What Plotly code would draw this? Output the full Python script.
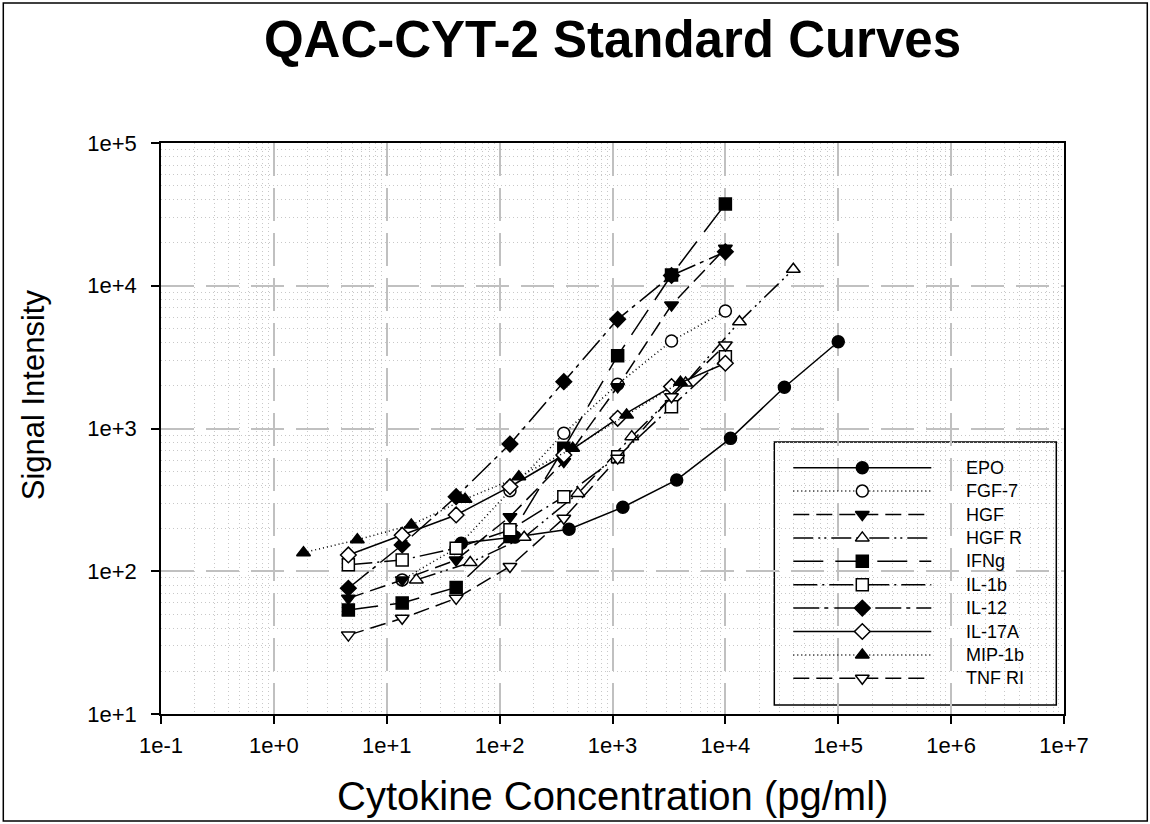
import plotly.graph_objects as go

# ---------------- data ----------------
series_names = ["EPO", "FGF-7", "HGF", "HGF R", "IFNg", "IL-1b", "IL-12", "IL-17A", "MIP-1b", "TNF RI"]

conc_std = [4.57, 13.7, 41.2, 123.5, 370.4, 1111, 3333, 10000]
conc_epo = [45.7, 137, 412, 1235, 3704, 11111, 33333, 100000]
conc_hgfr = [18.3, 54.9, 165, 494, 1481, 4444, 13333, 40000]
conc_mip = [1.83, 5.49, 16.5, 49.4, 148, 444, 1333, 4000]

epo = [157, 174, 197, 281, 436, 853, 1945, 4055]
fgf7 = [None, 87, 145, 367, 925, 2040, 4100, 6650]
hgf = [64.6, 87, 120, 241, 586, 1963, 7330, 18300]
hgfr = [87, 115, 173, 351, 877, 2080, 5600, 13040]
ifng = [53.5, 60, 77, 175, 727, 3235, 11900, 37400]
il1b = [111, 120, 145, 195, 333, 634, 1422, 3185]
il12 = [76, 153, 333, 778, 2128, 5820, 11800, 17300]
il17a = [130, 179, 248, 391, 652, 1178, 1965, 2865]
mip1b = [135, 166, 211, 320, 459, 727, 1245, 2110]
tnfri = [35.7, 46.8, 64.6, 108, 235, 620, 1671, 3845]

x_tickvals = [0.1, 1, 10, 100, 1e3, 1e4, 1e5, 1e6, 1e7]
x_ticktext = ["1e-1", "1e+0", "1e+1", "1e+2", "1e+3", "1e+4", "1e+5", "1e+6", "1e+7"]
y_tickvals = [10, 100, 1e3, 1e4, 1e5]
y_ticktext = ["1e+1", "1e+2", "1e+3", "1e+4", "1e+5"]

# ---------------- styles ----------------
FONT = "Arial, Liberation Sans, Helvetica, sans-serif"
series = [
    ("EPO", conc_epo, epo, "circle", "black", "solid"),
    ("FGF-7", conc_std, fgf7, "circle", "white", "1px,3px"),
    ("HGF", conc_std, hgf, "triangle-down", "black", "16px,7px"),
    ("HGF R", conc_hgfr, hgfr, "triangle-up", "white", "20px,5px,2px,4px,2px,5px"),
    ("IFNg", conc_std, ifng, "square", "black", "30px,12px"),
    ("IL-1b", conc_std, il1b, "square", "white", "24px,5px,2px,5px"),
    ("IL-12", conc_std, il12, "diamond", "black", "26px,5px,4px,6px"),
    ("IL-17A", conc_std, il17a, "diamond", "white", "solid"),
    ("MIP-1b", conc_mip, mip1b, "triangle-up", "black", "1px,3px"),
    ("TNF RI", conc_std, tnfri, "triangle-down", "white", "16px,7px"),
]
MSIZE = 12

fig = go.Figure()
for name, xs, ys, sym, fill, dash in series:
    fig.add_trace(go.Scatter(
        x=xs, y=ys, mode="lines+markers", name=name, showlegend=False,
        line=dict(color="black", width=1.5, dash=dash),
        marker=dict(symbol=sym, size=MSIZE, color=fill,
                    line=dict(color="black", width=1.5)),
        xaxis="x", yaxis="y", cliponaxis=False,
    ))

# ---------------- custom legend (overlay axes 0..1) ----------------
L, R, T, B = 160.7, 1063.7, 143.0, 714.0
PW, PH = R - L, B - T
def px2fx(px):
    return (px - L) / PW
def py2fy(py):
    return (B - py) / PH

row0, drow = 467.7, 23.4
lx0, lx1, lxm, ltext = px2fx(793), px2fx(931), px2fx(862), px2fx(964)
annotations = []
for i, (name, xs, ys, sym, fill, dash) in enumerate(series):
    fy = py2fy(row0 + drow * i)
    fig.add_trace(go.Scatter(
        x=[lx0, lxm, lx1], y=[fy, fy, fy], mode="lines", showlegend=False,
        line=dict(color="black", width=1.5, dash=dash), hoverinfo="skip",
        xaxis="x2", yaxis="y2"))
    fig.add_trace(go.Scatter(
        x=[lxm], y=[fy], mode="markers", showlegend=False, hoverinfo="skip",
        marker=dict(symbol=sym, size=MSIZE, color=fill,
                    line=dict(color="black", width=1.5)),
        xaxis="x2", yaxis="y2"))
    annotations.append(dict(x=ltext, y=fy, xref="paper", yref="paper", text=name,
                            showarrow=False, xanchor="left", yanchor="middle",
                            font=dict(family=FONT, size=18, color="black")))

shapes = [
    dict(type="rect", xref="paper", yref="paper",
         x0=px2fx(774), x1=px2fx(1056), y0=py2fy(705), y1=py2fy(442),
         line=dict(color="black", width=1.5), fillcolor="white", layer="below"),
    # outer frame of the picture
    dict(type="rect", xref="paper", yref="paper",
         x0=px2fx(3), x1=px2fx(1147), y0=py2fy(821), y1=py2fy(3),
         line=dict(color="black", width=1.5), fillcolor="rgba(0,0,0,0)"),
]

# axis titles
annotations.append(dict(x=0.5, y=py2fy(796), xref="paper", yref="paper",
                        text="Cytokine Concentration (pg/ml)", showarrow=False,
                        xanchor="center", yanchor="middle",
                        font=dict(family=FONT, size=40, color="black")))
annotations.append(dict(x=px2fx(33), y=py2fy(395), xref="paper", yref="paper",
                        text="Signal Intensity", showarrow=False, textangle=-90,
                        xanchor="center", yanchor="middle",
                        font=dict(family=FONT, size=31, color="black")))

x_minor = [m * 10 ** e for e in range(-1, 7) for m in range(2, 10)]
y_minor = [m * 10 ** e for e in range(1, 5) for m in range(2, 10)]

axis_common = dict(
    type="log", ticks="outside", ticklen=8, tickwidth=1.5, tickcolor="black",
    showline=True, linecolor="black", linewidth=1.5, mirror=True,
    showgrid=True, gridcolor="#c0c0c0", gridwidth=1.5, griddash="33px,12px",
    tickfont=dict(family=FONT, size=22), zeroline=False,
)

fig.update_layout(
    width=1150, height=824,
    margin=dict(l=L, r=1150 - R, t=T, b=824 - B, pad=0),
    paper_bgcolor="white", plot_bgcolor="white",
    font=dict(family=FONT, color="black"),
    title=dict(text="<b>QAC-CYT-2 Standard Curves</b>", x=0.5, xref="paper",
               y=1 - 39 / 824, yref="container", xanchor="center", yanchor="middle",
               font=dict(family=FONT, size=51, color="black")),
    xaxis=dict(range=[-1, 7], tickvals=x_tickvals, ticktext=x_ticktext,
               ticklabelstandoff=3,
               minor=dict(tickvals=x_minor, showgrid=True, gridcolor="#c8c8c8",
                          gridwidth=1, griddash="1px,3px", ticks=""),
               **axis_common),
    yaxis=dict(range=[1, 5], tickvals=y_tickvals, ticktext=y_ticktext,
               ticklabelstandoff=10,
               minor=dict(tickvals=y_minor, showgrid=True, gridcolor="#c8c8c8",
                          gridwidth=1, griddash="1px,3px", ticks=""),
               **axis_common),
    xaxis2=dict(overlaying="x", range=[0, 1], visible=False, anchor="y2"),
    yaxis2=dict(overlaying="y", range=[0, 1], visible=False, anchor="x2"),
    shapes=shapes, annotations=annotations,
)

fig.write_html("out.html", config={"displayModeBar": False},
               post_script="document.body.style.margin='0';")
